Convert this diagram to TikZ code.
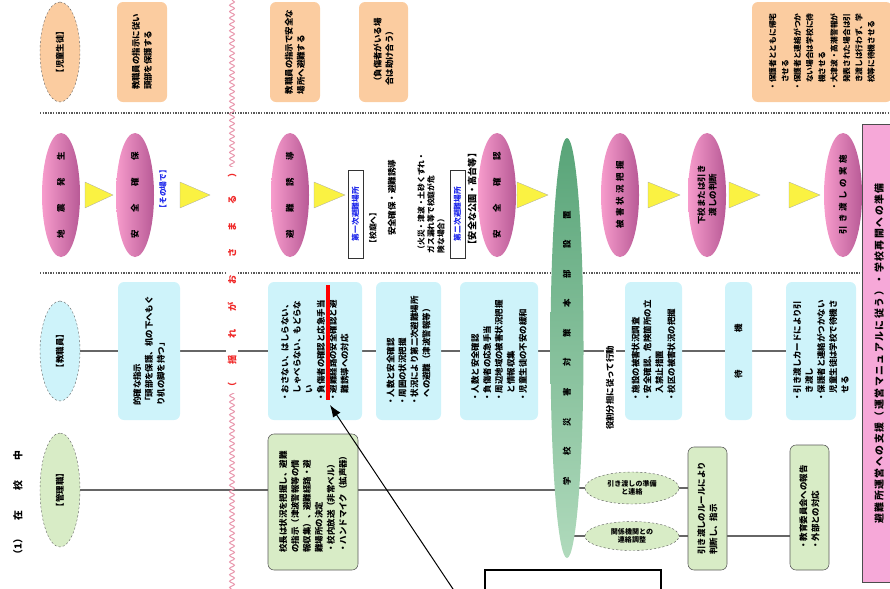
\documentclass[tikz,border=0pt]{standalone}
\usepackage{fontspec}
\setmainfont{Noto Sans CJK JP}
\usetikzlibrary{shapes.geometric,decorations.pathmorphing,arrows.meta,backgrounds}

\definecolor{peach}{RGB}{251,204,160}
\definecolor{aqua}{RGB}{206,243,250}
\definecolor{leaf}{RGB}{216,236,198}
\definecolor{mauve}{RGB}{184,90,150}
\definecolor{rose}{RGB}{247,156,204}
\definecolor{pinkbox}{RGB}{246,168,216}
\definecolor{pine}{RGB}{88,164,120}
\definecolor{mint}{RGB}{176,218,188}
\definecolor{lemon}{RGB}{250,242,66}
\definecolor{wave}{RGB}{232,150,172}
\definecolor{bluetext}{RGB}{30,40,235}
\definecolor{redtext}{RGB}{240,40,40}

\tikzset{
  who/.style={ellipse, draw=black!60, dashed, line width=0.6pt, rotate=90, minimum width=50mm,
    minimum height=20mm, inner sep=0pt, font=\fontsize{12}{14}\selectfont\bfseries},
  kidbox/.style={rectangle, rounded corners=3mm, fill=peach, rotate=90, align=left, inner sep=1mm,
    font=\fontsize{12}{17}\selectfont\bfseries},
  staffbox/.style={rectangle, rounded corners=3mm, fill=aqua, rotate=90, align=left, inner sep=1mm,
    font=\fontsize{12}{17}\selectfont\bfseries},
  bossbox/.style={rectangle, rounded corners=3mm, fill=leaf, draw=black!65, line width=0.8pt, rotate=90,
    align=left, inner sep=1mm, font=\fontsize{12}{17}\selectfont\bfseries},
  stage/.style={ellipse, rotate=90, left color=rose, right color=mauve, minimum width=62mm,
    minimum height=19mm, inner sep=0pt, align=center, font=\fontsize{12}{16}\selectfont\bfseries},
  wide/.style={font=\fontsize{12}{16}\selectfont\bfseries\addfontfeature{LetterSpace=40}},
  place/.style={rectangle, draw=black!80, line width=0.6pt, fill=white, text=bluetext, rotate=90,
    minimum width=44mm, minimum height=7.5mm, inner sep=0pt, font=\fontsize{11}{13}\selectfont\bfseries},
  txt/.style={rotate=90, align=left, inner sep=0pt, font=\fontsize{12}{17}\selectfont\bfseries},
  sub/.style={ellipse, draw=black!65, dashed, line width=0.6pt, fill=leaf, minimum width=47mm,
    minimum height=16mm, inner sep=0pt, align=center, font=\fontsize{10}{11.5}\selectfont\bfseries},
  sep/.style={black!65, line width=0.8mm, dash pattern=on 0.7mm off 0.6mm},
  conn/.style={black!60, line width=0.8mm},
  tri/.style={fill=lemon, draw=black!35, line width=0.4pt}
}

\begin{document}
\begin{tikzpicture}[x=0.5mm, y=-0.5mm]
  \useasboundingbox (0,0) rectangle (890,588);

  % separators
  \draw[sep] (40,113) -- (890,113);
  \draw[sep] (40,273) -- (862,273);
  \draw[wave, line width=0.5mm, decorate, decoration={snake, amplitude=1.2mm, segment length=3.2mm}] (232,0) -- (232,590);

  % children
  \node[who, fill=peach] (kid) at (60,52) {【児童生徒】};
  \node[kidbox, minimum width=50mm, minimum height=25mm] (k1) at (142,52) {教職員の指示に従い\\頭部を保護する};
  \node[kidbox, minimum width=50mm, minimum height=25mm] (k2) at (295,52) {教職員の指示で安全な\\場所へ避難する};
  \node[kidbox, minimum width=50mm, minimum height=24.5mm] (k3) at (383.5,52) {（負傷者がいる場\\合は助け合う）};
  \node[kidbox, minimum width=50mm, minimum height=70mm, font=\fontsize{11}{17.5}\selectfont\bfseries] (k4) at (822,52)
    {・保護者とともに帰宅\\　させる\\・保護者と連絡がつか\\　ない場合は学校に待\\　機させる\\・大津波・高潮警報が\\　発表された場合は引\\　き渡しは行わず、学\\　校等に待機させる};

  % stages
  \node[stage] (p1) at (61,195) {地\hspace{2.1em}震\hspace{2.1em}発\hspace{2.1em}生};
  \node[stage] (p2) at (135,195) {安\hspace{2.1em}全\hspace{2.1em}確\hspace{2.1em}保};
  \node[stage] (p3) at (290,195) {避\hspace{2.1em}難\hspace{2.1em}誘\hspace{2.1em}導};
  \node[stage] (p4) at (497,195) {安\hspace{2.1em}全\hspace{2.1em}確\hspace{2.1em}認};
  \node[stage, wide] (p5) at (620,195) {被害状況把握};
  \node[stage] (p6) at (707,195) {下校または引き\\渡しの判断};
  \node[stage, wide] (p7) at (843,195) {引き渡しの実施};

  \fill[tri] (85,182) -- (113,195) -- (85,208) -- cycle;
  \fill[tri] (180,182) -- (210,195) -- (180,208) -- cycle;
  \fill[tri] (314,182) -- (345,195) -- (314,208) -- cycle;
  \fill[tri] (517,182) -- (548,195) -- (517,208) -- cycle;
  \fill[tri] (648,182) -- (680,195) -- (648,208) -- cycle;
  \fill[tri] (729,182) -- (760,195) -- (729,208) -- cycle;
  \fill[tri] (789,182) -- (820,195) -- (789,208) -- cycle;

  \node[txt, text=bluetext, font=\fontsize{11}{13}\selectfont\bfseries] (spot) at (163,189) {【その場で】};
  \node[txt, text=redtext, fill=white, inner sep=1mm, font=\fontsize{13}{15}\selectfont\bfseries] (calm) at (232,280)
    {（\hspace{25pt}揺\hspace{25pt}れ\hspace{25pt}が\hspace{25pt}お\hspace{25pt}さ\hspace{25pt}ま\hspace{25pt}る\hspace{25pt}）};
  \node[place] (first) at (355.5,214) {第一次避難場所};
  \node[txt, font=\fontsize{11}{13}\selectfont\bfseries] (yard) at (373,228) {【校庭へ】};
  \node[txt] (check) at (392,198) {安全確保・避難誘導};
  \node[txt, font=\fontsize{11}{14}\selectfont\bfseries] (danger) at (431,203) {（火災・津波・土砂くずれ・\\ガス漏れ等で校庭が危\\険な場合）};
  \node[place] (second) at (457.5,214) {第二次避難場所};
  \node[txt, font=\fontsize{13}{15}\selectfont\bfseries] (park) at (472,199) {【安全な公園・高台等】};

  \node[ellipse, rotate=90, top color=pine, bottom color=mint, minimum width=210mm, minimum height=16.5mm,
    inner sep=0pt, font=\fontsize{12}{14}\selectfont\bfseries] (honbu) at (567,348)
    {学\hspace{2.5em}校\hspace{2.5em}災\hspace{2.5em}害\hspace{2.5em}対\hspace{2.5em}策\hspace{2.5em}本\hspace{2.5em}部\hspace{2.5em}設\hspace{2.5em}置};

  \node[rotate=90, fill=pinkbox, draw=black!70, line width=0.6pt, minimum width=229mm, minimum height=17mm, inner sep=0pt,
    font=\fontsize{14}{16}\selectfont\bfseries\addfontfeature{LetterSpace=16}] (reopen) at (879,353.5)
    {避難所運営への支援（運営マニュアルに従う）・学校再開への準備};

  % staff
  \node[who, fill=aqua] (staff) at (60,351) {【教職員】};
  \node[staffbox, minimum width=69mm, minimum height=31mm] (sa) at (149,351) {的確な指示\\「頭部を保護、机の下へもぐ\\り机の脚を持つ」};
  \node[staffbox, minimum width=69mm, minimum height=47mm] (sb) at (315,351)
    {・おさない、はしらない、\\　しゃべらない、もどらな\\　い\\・負傷者の確認と応急手当\\・避難経路の安全確認と避\\　難誘導への対応};
  \node[staffbox, minimum width=69mm, minimum height=32.5mm] (sc) at (408.5,351)
    {・人数と安全確認\\・周囲の状況把握\\・状況により第二次避難場所\\　への避難（津波警報等）};
  \node[staffbox, minimum width=69mm, minimum height=39mm] (sd) at (499,351)
    {・人数と安全確認\\・負傷者の応急手当\\・周辺地域の被害状況把握\\　と情報収集\\・児童生徒の不安の緩和};
  \node[txt, fill=white, inner sep=0.8mm] (role) at (610,388) {役割分担に従って行動};
  \node[staffbox, minimum width=69mm, minimum height=28.5mm] (se) at (653.5,351)
    {・施設の被害状況調査\\・安全確認、危険箇所の立\\　入禁止措置\\・校区の被害状況の把握};
  \node[staffbox, minimum width=69mm, minimum height=13.5mm] (sf) at (738.5,351) {待\hspace{19mm}機};
  \node[staffbox, minimum width=69mm, minimum height=35mm] (sg) at (821,351)
    {・引き渡しカードにより引\\　き渡し\\・保護者と連絡がつかない\\　児童生徒は学校で待機さ\\　せる};

  % managers
  \node[who, fill=leaf, minimum width=57mm] (boss) at (60,490) {【管理職】};
  \node[bossbox, minimum width=68mm, minimum height=45mm] (ba) at (313,502)
    {校長は状況を把握し、避難\\の指示（津波警報等の情\\報収集）、避難経路・避\\難場所の決定\\・校内放送（非常ベル）\\・ハンドマイク（拡声器）};
  \node[sub] (b1) at (632,488) {引き渡しの準備\\と連絡};
  \node[sub, minimum height=14.5mm] (b2) at (632,536) {関係機関との\\連絡調整};
  \node[bossbox, minimum width=61.5mm, minimum height=19.5mm] (bb) at (707.5,508.5) {引き渡しのルールにより\\判断し、指示};
  \node[bossbox, minimum width=62.5mm, minimum height=19.5mm] (bc) at (809.5,507.5) {・教育委員会への報告\\・外部との対応};

  \node[txt, font=\fontsize{14}{16}\selectfont\bfseries] (title) at (18,505) {（1）\hspace{6.5mm}在\hspace{10mm}校\hspace{10mm}中};

  \begin{scope}[on background layer]
    \draw[conn] (staff) -- (sa) -- (sb) -- (sc) -- (sd) -- (honbu |- sd) -- (se) -- (sf) -- (sg);
    \draw[conn] (boss) -- (boss -| ba) -- (boss -| honbu);
    \draw[conn] (b1 -| honbu) -- (b1) -- (b1 -| bb);
    \draw[conn] (b2 -| honbu) -- (b2) -- (b2 -| bb) -- (b2 -| bc);
  \end{scope}

  % marks on top
  \coordinate (r1) at (328,285);
  \coordinate (r2) at (328,400);
  \draw[red, line width=1.8mm] (r1) -- (r2);
  \node[draw=black, line width=0.9mm, fill=white, minimum width=88mm, minimum height=16mm, inner sep=0pt] (memo) at (573,586) {};
  \coordinate (tail) at (455,592);
  \coordinate (tip) at (330,405);
  \draw[-{Latex[length=6mm, width=4.5mm]}, line width=0.5mm] (tail) -- (tip);
\end{tikzpicture}
\end{document}
